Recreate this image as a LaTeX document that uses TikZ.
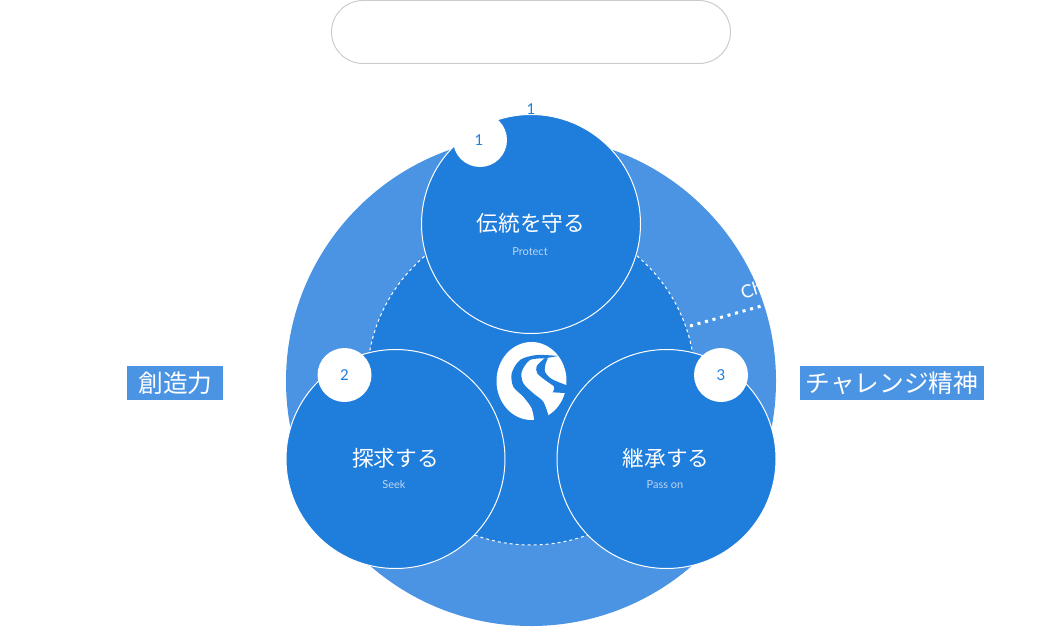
\documentclass[tikz,border=0pt]{standalone}
\usepackage{fontspec}
\setmainfont{Lato}
\newfontfamily\jpfont{Noto Sans CJK JP}
\definecolor{deepblue}{HTML}{1F7DDC}
\definecolor{paleblue}{HTML}{4A94E3}
\definecolor{subtext}{HTML}{BFD6F0}
\tikzset{
    bigcirc/.style={circle, draw=white, line width=1pt, fill=deepblue, minimum size=219pt, inner sep=0pt},
    badge/.style={circle, fill=white, text=deepblue, minimum size=54pt, inner sep=0pt, font=\fontsize{15}{15}\selectfont},
    title/.style={text=white, inner sep=0pt, font=\jpfont\fontsize{21.7}{22}\selectfont},
    subtitle/.style={text=subtext, inner sep=0pt, font=\fontsize{11}{11}\selectfont},
    sidelabel/.style={fill=paleblue, text=white, minimum height=34pt, inner sep=0pt, font=\jpfont\fontsize{24.7}{25}\selectfont},
}
\begin{document}
\begin{tikzpicture}[x=1pt, y=-1pt]
    \useasboundingbox (0,0) rectangle (1062,626);

    \coordinate (O) at (531,381);
    \coordinate (D1) at (690,326);
    \coordinate (D2) at (765,305);

    \node[draw=black!20, line width=1pt, rounded corners=31.5pt, minimum width=399pt, minimum height=63pt, inner sep=0pt] (pill) at (531,32) {};

    \fill[paleblue] (O) circle (245);
    \fill[deepblue] (O) circle (164);
    \draw[white, line width=1pt, dash pattern=on 3pt off 3pt] (O) circle (164);
    \draw[white, line width=3pt, dash pattern=on 3pt off 4.8pt] (D1) -- (D2);

    \begin{scope}
        \clip (O) circle (245);
        \node[text=white, rotate=17, inner sep=0pt, anchor=west, font=\fontsize{18}{18}\selectfont] (chal) at (741,293) {Ch};
    \end{scope}

    \node[text=deepblue, inner sep=0pt, font=\fontsize{15}{15}\selectfont] (topnum) at (531,109) {1};

    \node[bigcirc] (protect) at (531,224) {};
    \node[bigcirc] (seek) at (395.5,459) {};
    \node[bigcirc] (pass) at (666.5,459) {};

    \node[badge] (b1) at (480,140) {\kern-2pt 1};
    \node[badge] (b2) at (344.5,375) {2};
    \node[badge] (b3) at (721,375) {3};

    \node[title] (t1) at (531,223) {伝統を守る};
    \node[title] (t2) at (395.5,458) {探求する};
    \node[title] (t3) at (666,458) {継承する};

    \node[subtitle] (s1) at (530,251.5) {Protect};
    \node[subtitle] (s2) at (394,484.5) {Seek};
    \node[subtitle] (s3) at (665,484.5) {Pass on};

    \node[sidelabel, minimum width=96pt] (left) at (175,383) {\kern1pt 創造力};
    \node[sidelabel, minimum width=184pt] (right) at (892,383) {チャレンジ精神};

    \fill[white] (531.5,381) ellipse (35 and 39);
    \fill[deepblue] plot[smooth] coordinates {(558.3,356) (536.7,355) (520,360) (511.7,373.3) (513.3,386.7) (523.3,396.7) (531.7,408.3) (534.3,421)}
        -- (548.3,423) -- plot[smooth] coordinates {(548.3,415) (543.3,401.7) (533.3,393.3) (523.3,383.3) (521.7,371.7) (530,360) (545,358.3)} -- cycle;
    \fill[deepblue] plot[smooth] coordinates {(545,358) (536.7,366) (537.3,373.3) (545,380) (554,386.7) (552.7,392.3)}
        -- (570,393.3) -- (570,386) -- plot[smooth] coordinates {(566,385) (551.7,379) (545,371.7) (545.7,363.3) (548,358.5)} -- cycle;
\end{tikzpicture}
\end{document}
